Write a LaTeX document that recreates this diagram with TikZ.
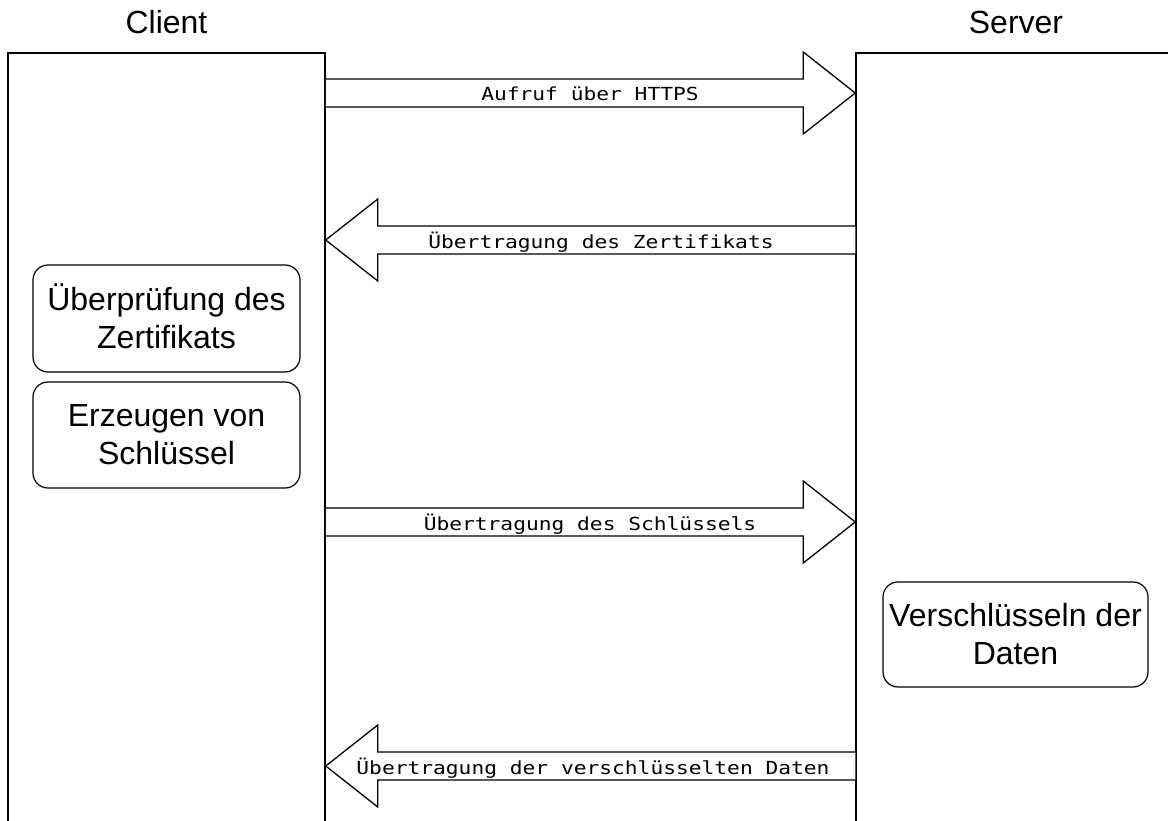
\documentclass[tikz,border=0pt]{standalone}
\usepackage{fontspec}
\setmainfont{Liberation Sans}
\newfontfamily\arrowlbl{DejaVu Sans Mono}[FakeStretch=1.18]
\usetikzlibrary{calc}
\tikzset{
  lane/.style={draw=black, line width=1.5pt, minimum width=317pt, minimum height=777pt, inner sep=0pt},
  header/.style={font=\fontsize{32}{38}\selectfont, anchor=base, inner sep=0pt},
  stepbox/.style={draw=black, line width=1.2pt, rounded corners=15pt, align=center,
    font=\fontsize{32}{38}\selectfont, inner sep=0pt},
  fatarrow/.style={draw=black, line width=1.3pt, line join=miter, fill=white},
  arrowtext/.style={font=\arrowlbl\fontsize{18}{20}\selectfont, anchor=base, inner sep=0pt}
}
\newcommand\fatR[2]{%
  \draw[fatarrow] ($(#1)+(0,-14)$) -- ($(#2)+(-52,-14)$) -- ($(#2)+(-52,-41)$) -- (#2)
    -- ($(#2)+(-52,41)$) -- ($(#2)+(-52,14)$) -- ($(#1)+(0,14)$);}
\newcommand\fatL[2]{%
  \draw[fatarrow] ($(#1)+(0,-14)$) -- ($(#2)+(52,-14)$) -- ($(#2)+(52,-41)$) -- (#2)
    -- ($(#2)+(52,41)$) -- ($(#2)+(52,14)$) -- ($(#1)+(0,14)$);}
\begin{document}
\begin{tikzpicture}[x=1pt, y=-1pt]
\useasboundingbox (0,0) rectangle (1168,821);
\clip (0,0) rectangle (1168,821);
\fill[white] (0,0) rectangle (1168,821);

% lanes
\node[lane] (client) at (166.5,441.5) {};
\node[lane, minimum width=320pt] (server) at (1016,441.5) {};
\node[header] (clienthdr) at (166.5,34) {Client};
\node[header] (serverhdr) at (1016,34) {Server};

% steps
\node[stepbox, minimum width=267pt, minimum height=107pt] (check) at (166.5,318.5)
  {\vphantom{E}\smash{Ü}berprüfung des\\Zertifikats};
\node[stepbox, minimum width=267pt, minimum height=106pt] (keygen) at (166.5,435)
  {Erzeugen von\\Schlüssel};
\node[stepbox, minimum width=265pt, minimum height=105pt] (encrypt) at (1015.5,634.5)
  {Verschlüsseln der\\Daten};

% arrow end points on the lanes
\coordinate (a1s) at (client.east |- 0,93);
\coordinate (a1e) at (server.west |- 0,93);
\coordinate (a2s) at (server.west |- 0,240);
\coordinate (a2e) at (client.east |- 0,240);
\coordinate (a3s) at (client.east |- 0,522);
\coordinate (a3e) at (server.west |- 0,522);
\coordinate (a4s) at (server.west |- 0,766);
\coordinate (a4e) at (client.east |- 0,766);

\fatR{a1s}{a1e}
\fatL{a2s}{a2e}
\fatR{a3s}{a3e}
\fatL{a4s}{a4e}

\node[arrowtext] (l1) at (590,101) {Aufruf über HTTPS};
\node[arrowtext] (l2) at (601,249) {Übertragung des Zertifikats};
\node[arrowtext] (l3) at (590,530) {Übertragung des Schlüssels};
\node[arrowtext] (l4) at (593,774) {Übertragung der verschlüsselten Daten};
\end{tikzpicture}
\end{document}
